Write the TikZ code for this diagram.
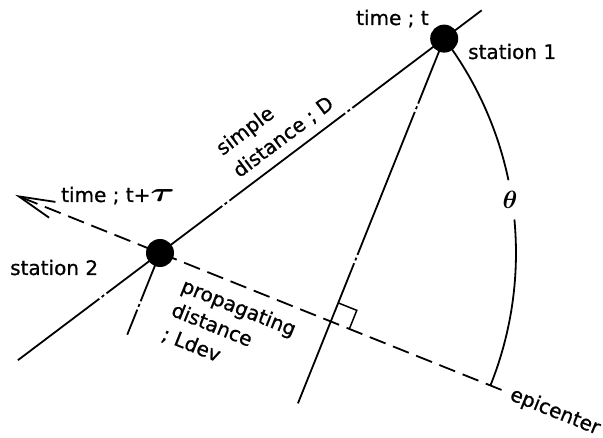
\documentclass[tikz,border=0pt]{standalone}
\usepackage{fontspec}
\usepackage{graphicx}
\usepackage{bm}
\setmainfont{DejaVu Sans}
\newfontfamily\lblfont{DejaVu Sans}[FakeBold=0.8]
\usetikzlibrary{arrows.meta,calc}
\begin{document}
\begin{tikzpicture}[x=1pt,y=1pt,
  lbl/.style={inner sep=0pt, font=\lblfont\fontsize{20}{26}\selectfont},
  ln/.style={line width=1.8pt},
  station/.style={circle, fill=black, inner sep=0pt, minimum size=28pt},
  dashdot/.style={ln, dash pattern=on 145pt off 3pt on 3pt off 3pt, dash phase=30pt},
  perpline/.style={ln, dash pattern=on 154pt off 3pt on 3pt off 3pt, dash phase=84pt},
  shortline/.style={ln, dash pattern=on 52pt off 3pt on 3pt off 3pt},
  propline/.style={ln, dash pattern=on 17pt off 8pt},
  barb/.style={-{Straight Barb[length=36pt,width=17pt]}}
]
\useasboundingbox (0,0) rectangle (603,-438);
% key points
\coordinate (S2) at (160,-253);
\coordinate (S1) at ($(S2)+(37.03:356)$);
\coordinate (Dtop) at ($(S2)+(37.03:403)$);
\coordinate (Dlow) at ($(S2)+(217.03:178)$);
\coordinate (E) at ($(S2)+(-21.85:368)$);
\coordinate (tip) at ($(S2)+(158.15:156)$);
\coordinate (F) at ($(S2)+(-21.85:184)$);
\coordinate (P1end) at ($(S1)+(-111.85:393)$);
\coordinate (P2end) at ($(S2)+(-111.85:88)$);
\coordinate (A2) at ($(S2)+(5.4:356)$);

% simple distance line
\draw[ln] (S1) -- (Dtop);
\draw[dashdot] (S1) -- (Dlow);
% propagation line with arrow
\draw[propline, barb] (E) -- (tip);
% perpendicular lines
\draw[perpline] (S1) -- (P1end);
\draw[shortline] (S2) -- (P2end);
% right angle mark
\draw[line width=1.5pt] ($(F)+(68.15:20)$) -- ++(-21.85:20) -- ++(-111.85:20);
% arc theta
\draw[ln] (S1) arc[start angle=37.03, end angle=11.8, radius=356];
\draw[ln] (A2) arc[start angle=5.4, end angle=-21.85, radius=356];

% stations
\node[station] (st1) at (S1) {};
\node[station] (st2) at (S2) {};

% labels
\node[lbl, anchor=base west] (t1) at (356,-25) {time ; t};
\node[lbl, anchor=base west] (n1) at (468,-59) {station 1};
\node[lbl, anchor=base west] (n2) at (10,-275) {station 2};
\node[lbl, anchor=base west] (t2) at (61,-202) {time ; t+\scalebox{1.8}[1.3]{$\bm{\tau}$}};
\node[lbl, align=left, rotate=37.03, font=\lblfont\fontsize{20}{28}\selectfont] (dl) at (275,-126) {simple\\distance ; D};
\node[lbl, align=left, rotate=-21.85, font=\lblfont\fontsize{20}{26}\selectfont] (pl) at (229,-332) {propagating\\distance\\; Ldev};
\node[lbl, rotate=-21.85] (ep) at (555,-412) {epicenter};
\node[inner sep=0pt, font=\fontsize{34}{34}\selectfont] (th) at (510,-200) {$\bm{\theta}$};
\end{tikzpicture}
\end{document}
